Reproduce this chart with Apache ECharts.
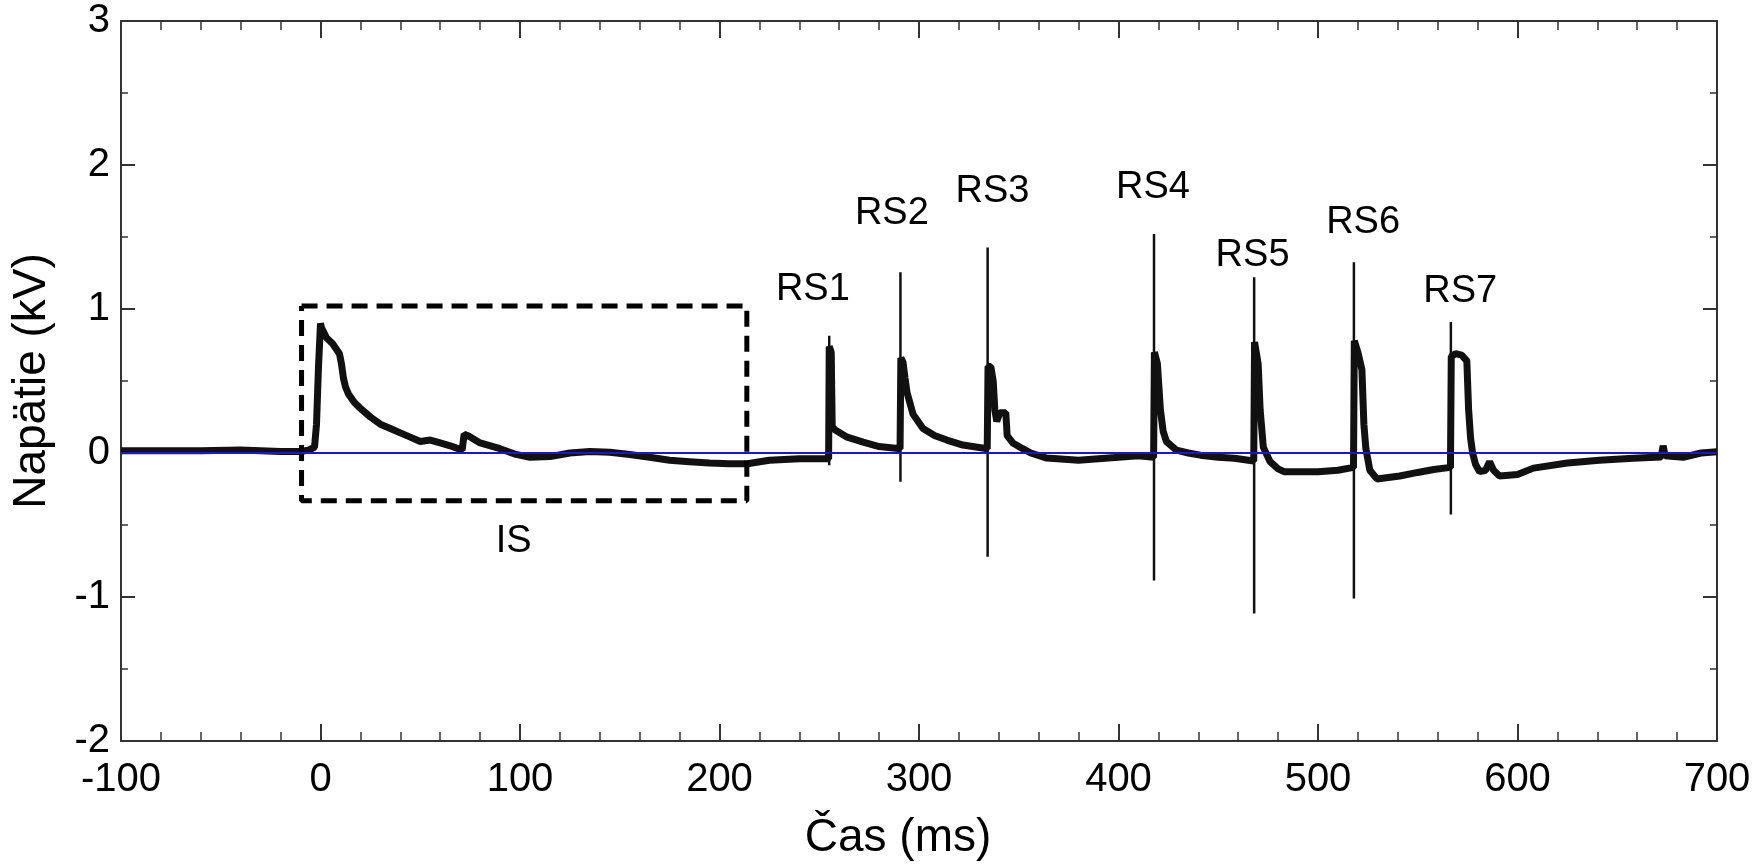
<!DOCTYPE html>
<html>
<head>
<meta charset="utf-8">
<script src="https://cdn.jsdelivr.net/npm/echarts@6/dist/echarts.min.js"></script>
<style>
html,body{margin:0;padding:0;background:#fff;}
#chart{width:1756px;height:866px;}
</style>
</head>
<body>
<div id="chart"></div>
<script>
// ---- Data ----
const signalT = [-100,-80,-60,-40,-30,-20,-10,-6,-3,-2,-1,0,0.5,3,6,9.5,10.5,11.5,12.5,14,17,20,25,30,35,40,45,50,55,60,65,71,72,74,80,90,98,105,115,125,135,145,155,165,175,185,195,205,214,225,240,254.7,
  255,256,256.5,258,264,272,280,290.5,
  290.9,292,293,294,297,302,308,314,322,334.2,
  334.6,336,337.2,338,339,340.5,343.5,344.2,347,352,356,364,380,395,410,417.6,
  418,419.5,420.3,421,422.4,424,429,435,441,450,458,467.8,
  468.2,470,471,472.6,476,480,483,500,510,517.8,
  518.2,520,522,523,524,526,529.5,541,550,558,566.4,
  566.8,569,572,574.6,575.5,576.5,577.5,579,581,584,586,588,591,600,608,625,641,658,672,673,674,683,692,700];
const signalV = [0.015,0.015,0.015,0.02,0.015,0.01,0.01,0.02,0.04,0.2,0.6,0.9,0.87,0.8,0.76,0.69,0.62,0.52,0.46,0.41,0.35,0.31,0.25,0.2,0.17,0.14,0.11,0.08,0.09,0.07,0.05,0.02,0.13,0.12,0.07,0.03,-0.01,-0.03,-0.025,0,0.01,0.005,-0.01,-0.03,-0.05,-0.06,-0.07,-0.075,-0.075,-0.05,-0.04,-0.04,
  0.74,0.7,0.18,0.16,0.11,0.075,0.045,0.03,
  0.66,0.63,0.52,0.42,0.27,0.17,0.12,0.09,0.055,0.03,
  0.6,0.6,0.5,0.3,0.22,0.28,0.28,0.12,0.07,0.03,0.0,-0.035,-0.05,-0.035,-0.02,-0.03,
  0.7,0.62,0.45,0.3,0.15,0.08,0.02,0.0,-0.015,-0.03,-0.036,-0.055,
  0.77,0.62,0.3,0.04,-0.06,-0.11,-0.13,-0.13,-0.12,-0.1,
  0.78,0.7,0.58,0.2,0.03,-0.12,-0.18,-0.16,-0.135,-0.115,-0.1,
  0.67,0.69,0.68,0.64,0.3,0.1,0.0,-0.08,-0.13,-0.12,-0.06,-0.12,-0.16,-0.15,-0.105,-0.07,-0.05,-0.036,-0.027,0.05,-0.02,-0.03,0.0,0.008];

// Sharp transients (RS1..RS7): time, maximum, minimum
const spikeT   = [255, 290.7, 334.4, 417.8, 468, 518, 566.6];
const spikeMax = [0.815, 1.255, 1.427, 1.52, 1.22, 1.324, 0.91];
const spikeMin = [-0.085, -0.2, -0.72, -0.885, -1.115, -1.01, -0.427];

// Annotation labels
const labelText = ['RS1','RS2','RS3','RS4','RS5','RS6','RS7','IS'];
const labelT    = [246.8, 286.4, 336.8, 417.3, 467.2, 522.6, 571.3, 96.8];
const labelV    = [1.137, 1.666, 1.817, 1.845, 1.371, 1.598, 1.124, -0.614];

// IS dashed box corners
const boxT = [-9.5, 213.7, 213.7, -9.5, -9.5];
const boxV = [1.02, 1.02, -0.332, -0.332, 1.02];

// Zero reference line
const zeroT = [-100, 700];
const zeroV = [0, 0];

// Axis
const xMin = -100, xMax = 700, xStep = 100;
const yMin = -2, yMax = 3, yStep = 1;

// ---- Chart ----
const FONT = "'Liberation Sans', Arial, Helvetica, sans-serif";
const zip = (a, b) => a.map((v, i) => [v, b[i]]);
const axisColor = '#333';

function xAxisDef(pos, showLabel) {
  return {
    type: 'value', position: pos, min: xMin, max: xMax, interval: xStep,
    axisLine: { show: true, onZero: false, lineStyle: { color: axisColor, width: 2 } },
    axisTick: { show: true, inside: true, length: 17, lineStyle: { color: axisColor, width: 2 } },
    minorTick: { show: true, splitNumber: 5, length: 9, lineStyle: { color: axisColor, width: 1.5 } },
    splitLine: { show: false }, minorSplitLine: { show: false },
    axisLabel: { show: showLabel, fontSize: 40, color: '#000', fontFamily: FONT, margin: 19 },
    name: showLabel ? 'Čas (ms)' : '', nameLocation: 'middle', nameGap: 74,
    nameTextStyle: { fontSize: 46, color: '#000', fontFamily: FONT, padding: [0, 42, 0, 0] }
  };
}
function yAxisDef(pos, showLabel) {
  return {
    type: 'value', position: pos, min: yMin, max: yMax, interval: yStep,
    axisLine: { show: true, onZero: false, lineStyle: { color: axisColor, width: 2 } },
    axisTick: { show: true, inside: true, length: 14, lineStyle: { color: axisColor, width: 2 } },
    minorTick: { show: true, splitNumber: 2, length: 7, lineStyle: { color: axisColor, width: 1.5 } },
    splitLine: { show: false }, minorSplitLine: { show: false },
    axisLabel: { show: showLabel, fontSize: 40, color: '#000', fontFamily: FONT, margin: 11, padding: [8, 0, 0, 0] },
    name: showLabel ? 'Napätie (kV)' : '', nameLocation: 'middle', nameGap: 66, nameRotate: 90,
    nameTextStyle: { fontSize: 46, color: '#000', fontFamily: FONT }
  };
}

const series = [];
series.push({
  type: 'line', name: 'signal', data: zip(signalT, signalV), showSymbol: false,
  lineStyle: { color: '#111', width: 7 }, z: 2, silent: true
});
spikeT.forEach((t, i) => {
  series.push({
    type: 'line', data: [[t, spikeMax[i]], [t, spikeMin[i]]], showSymbol: false,
    lineStyle: { color: '#111', width: 2.5 }, z: 3, silent: true
  });
});
series.push({
  type: 'line', name: 'box', data: zip(boxT, boxV), showSymbol: false,
  lineStyle: { color: '#000', width: 5, type: [16, 9] }, z: 4, silent: true
});
series.push({
  type: 'line', name: 'zero', data: zip(zeroT, zeroV), showSymbol: false,
  lineStyle: { color: '#1c1cb0', width: 2 }, z: 5, silent: true
});
series.push({
  type: 'scatter', name: 'labels', symbolSize: 0, silent: true, z: 6,
  itemStyle: { opacity: 1 },
  data: labelT.map((t, i) => [t, labelV[i], labelText[i]]),
  label: { show: true, position: 'inside', formatter: p => p.data[2], fontSize: 38, color: '#000', opacity: 1, fontFamily: FONT }
});

const chart = echarts.init(document.getElementById('chart'));
chart.setOption({
  animation: false,
  backgroundColor: '#fff',
  grid: { left: 121, right: 39, top: 21, bottom: 117, containLabel: false },
  xAxis: [xAxisDef('bottom', true), xAxisDef('top', false)],
  yAxis: [yAxisDef('left', true), yAxisDef('right', false)],
  series: series
});
</script>
</body>
</html>
